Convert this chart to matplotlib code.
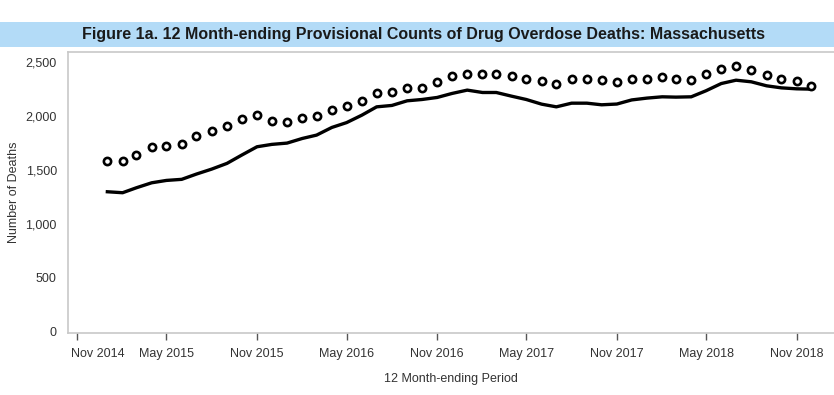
import pandas as pd
import matplotlib
matplotlib.use("Agg")
import matplotlib.pyplot as plt
import matplotlib.transforms as mtransforms
from matplotlib.patches import Rectangle
from matplotlib.ticker import FuncFormatter

# data: 12 month-ending periods Jan 2015 - Dec 2018
months = pd.date_range("2015-01-01", periods=48, freq="MS")
predicted = [1586, 1583, 1642, 1713, 1722, 1744, 1815, 1864, 1907, 1975, 2012, 1954,
             1941, 1978, 2000, 2059, 2096, 2142, 2210, 2222, 2265, 2265, 2315, 2370,
             2395, 2395, 2395, 2370, 2346, 2321, 2299, 2346, 2346, 2333, 2313, 2346,
             2346, 2358, 2346, 2333, 2395, 2438, 2463, 2426, 2383, 2346, 2321, 2281]
reported = [1299, 1290, 1336, 1382, 1404, 1414, 1463, 1509, 1562, 1639, 1716, 1738,
            1750, 1793, 1824, 1895, 1940, 2009, 2086, 2099, 2142, 2154, 2173, 2210,
            2241, 2219, 2219, 2185, 2154, 2111, 2086, 2120, 2120, 2105, 2112, 2150,
            2167, 2179, 2176, 2179, 2235, 2302, 2333, 2318, 2281, 2262, 2253, 2250]
tick_dates = pd.date_range("2014-11-01", periods=9, freq="6MS")
tick_labels = ["Nov 2014", "May 2015", "Nov 2015", "May 2016", "Nov 2016",
               "May 2017", "Nov 2017", "May 2018", "Nov 2018"]
yticks = [0, 500, 1000, 1500, 2000, 2500]

plt.rcParams['font.family'] = ['Liberation Sans', 'DejaVu Sans']

fig = plt.figure(figsize=(8.34, 3.95), dpi=100)
ax = fig.add_axes([0.0815, 0.157, 0.9185, 0.711])

# title banner
fig.patches.append(Rectangle((0, 0.881), 1, 0.063, transform=fig.transFigure,
                             facecolor="#b3dbf7", edgecolor="none"))
fig.text(0.508, 0.912, "Figure 1a. 12 Month-ending Provisional Counts of Drug Overdose Deaths: Massachusetts",
         ha="center", va="center", fontsize=11.5, fontweight="bold", color="#1a1a1a")

ax.plot(months, reported, color="black", lw=2.4, solid_joinstyle="round", zorder=2)
ax.plot(months, predicted, ls="none", marker="o", ms=5.2, mfc="white", mec="black",
        mew=1.9, zorder=3)

ax.set_xlim(pd.Timestamp("2014-10-13"), pd.Timestamp("2019-01-16"))
ax.set_ylim(-10, 2593)
ax.set_xticks(tick_dates)
ax.set_xticklabels(tick_labels)
ax.set_yticks(yticks)
ax.yaxis.set_major_formatter(FuncFormatter(lambda v, p: f"{int(v):,}"))

ax.spines["right"].set_visible(False)
for s in ["left", "bottom", "top"]:
    ax.spines[s].set_color("#c8c8c8")
    ax.spines[s].set_linewidth(1.2)
ax.tick_params(axis="y", length=0, pad=8, labelsize=9, labelcolor="#333333")
ax.tick_params(axis="x", length=5, width=1, color="#555555", pad=6, labelsize=9,
               labelcolor="#333333")
first = ax.get_xticklabels()[0]
first.set_horizontalalignment("left")
first.set_transform(first.get_transform() +
                    mtransforms.ScaledTranslation(-0.06, 0, fig.dpi_scale_trans))

ax.set_xlabel("12 Month-ending Period", fontsize=9, color="#333333", labelpad=9)
ax.set_ylabel("Number of Deaths", fontsize=9, color="#333333")
ax.yaxis.set_label_coords(-0.062, 0.5)

fig.savefig("out.png", dpi=100)
